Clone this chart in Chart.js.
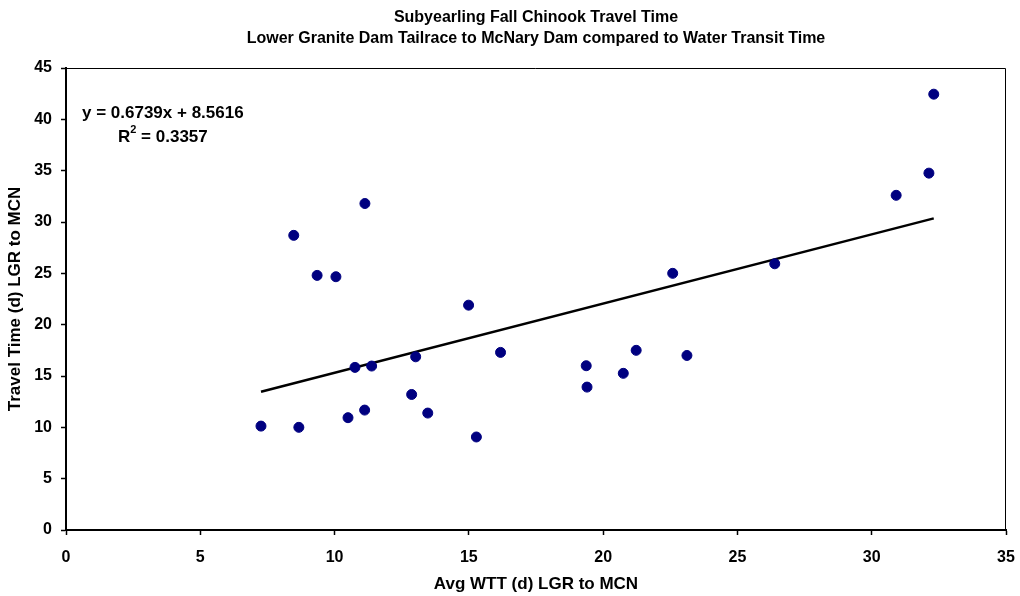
<!DOCTYPE html>
<html>
<head>
<meta charset="utf-8">
<script src="https://cdn.jsdelivr.net/npm/chart.js@4.4.0/dist/chart.umd.min.js"></script>
<style>
  body { margin: 0; background: #fff; }
  #wrap { width: 1020px; height: 596px; }
</style>
</head>
<body>
<div id="wrap"><canvas id="mycanvas"></canvas></div>
<script>
// Avg water transit time (d) LGR to MCN, and fish travel time (d)
var wttDays = [7.26, 8.67, 8.48, 11.13, 9.35, 10.05, 14.99, 16.18, 10.76, 11.38, 13.02, 12.87, 10.5,
  11.12, 13.47, 15.28, 19.37, 19.4, 20.75, 21.23, 23.12, 22.59, 26.39, 30.91, 32.13, 32.31];
var travelDays = [10.12, 10.0, 28.7, 31.8, 24.8, 24.67, 21.9, 17.3, 15.84, 15.97, 16.87, 13.2, 10.94,
  11.68, 11.39, 9.06, 16.0, 13.92, 15.26, 17.5, 17.0, 25.0, 25.93, 32.6, 34.76, 42.45];
// linear trendline ends
var trendX = [7.26, 32.31];
var trendY = [13.47, 30.35];
var eqText = "y = 0.6739x + 8.5616";
var r2Text = " = 0.3357";

var font = "'Liberation Sans', Arial, sans-serif";

var points = [];
for (var i in wttDays) {
  points.push({x: wttDays[i], y: travelDays[i]});
}
var trend = [];
for (var j in trendX) {
  trend.push({x: trendX[j], y: trendY[j]});
}

// thin frame on top/right and the trendline equation
var extras = {
  id: 'extras',
  afterDraw: function(chart) {
    var c = chart.ctx, a = chart.chartArea;
    c.save();
    c.strokeStyle = '#000';
    c.lineWidth = 1;
    c.beginPath();
    c.moveTo(a.left, a.top + 0.5);
    c.lineTo(a.right - 0.5, a.top + 0.5);
    c.lineTo(a.right - 0.5, a.bottom);
    c.stroke();
    c.fillStyle = '#000';
    c.textBaseline = 'middle';
    c.font = 'bold 17px ' + font;
    c.fillText(eqText, a.left + 16, a.top + 45);
    var rx = a.left + 52, ry = a.top + 69;
    c.fillText('R', rx, ry);
    var rw = c.measureText('R').width;
    c.font = 'bold 11px ' + font;
    c.fillText('2', rx + rw, ry - 7);
    var sw = c.measureText('2').width;
    c.font = 'bold 17px ' + font;
    c.fillText(r2Text, rx + rw + sw, ry);
    c.restore();
  }
};

var ctx = document.getElementById('mycanvas');
var chart = new Chart(ctx, {
  type: 'scatter',
  data: {
    datasets: [
      {
        label: 'Travel time',
        data: points,
        backgroundColor: '#000080',
        borderColor: '#000080',
        pointRadius: 5,
        pointHoverRadius: 5
      },
      {
        type: 'line',
        label: 'Linear trend',
        data: trend,
        borderColor: '#000',
        borderWidth: 2.5,
        pointRadius: 0,
        fill: false
      }
    ]
  },
  options: {
    responsive: true,
    maintainAspectRatio: false,
    animation: false,
    layout: { padding: { left: 0, right: 0, top: 0, bottom: 0 } },
    plugins: {
      legend: { display: false },
      tooltip: { enabled: false },
      title: {
        display: true,
        fullSize: false,
        text: ['Subyearling Fall Chinook Travel Time',
               'Lower Granite Dam Tailrace to McNary Dam compared to Water Transit Time'],
        color: '#000',
        font: { family: font, size: 16, weight: 'bold', lineHeight: 1.3125 },
        padding: { top: 7, bottom: 19 }
      }
    },
    scales: {
      x: {
        type: 'linear',
        min: 0,
        max: 35,
        afterFit: function(s) { s.height = 66; s.paddingRight = 14; },
        ticks: { stepSize: 5, color: '#000', padding: 13,
          font: { family: font, size: 16, weight: 'bold' } },
        grid: { drawOnChartArea: false, tickLength: 5, tickColor: '#000', tickWidth: 1.5 },
        border: { color: '#000', width: 2 },
        title: {
          display: true,
          text: 'Avg WTT (d) LGR to MCN',
          color: '#000',
          font: { family: font, size: 17, weight: 'bold' },
          padding: { top: 0, bottom: 1 }
        }
      },
      y: {
        min: 0,
        max: 45,
        afterFit: function(s) { s.width = 66; },
        ticks: { stepSize: 5, color: '#000', padding: 9,
          font: { family: font, size: 16, weight: 'bold' } },
        grid: { drawOnChartArea: false, tickLength: 5, tickColor: '#000', tickWidth: 1.5 },
        border: { color: '#000', width: 2 },
        title: {
          display: true,
          text: 'Travel Time (d) LGR to MCN',
          color: '#000',
          font: { family: font, size: 17, weight: 'bold' },
          padding: { top: 5, bottom: 0 }
        }
      }
    }
  },
  plugins: [extras]
});
</script>
</body>
</html>
